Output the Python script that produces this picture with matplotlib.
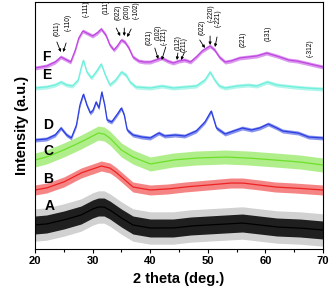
import numpy as np
import matplotlib
matplotlib.use("Agg")
import matplotlib.pyplot as plt

plt.rcParams['font.family'] = ['Liberation Sans', 'DejaVu Sans']

# XRD patterns (2 theta, stacked intensity in a.u.)
F_x = [20, 22, 23.5, 24.5, 25.5, 26.2, 27, 27.6, 28.3, 29, 30, 30.8, 31.5, 32.3, 33, 33.7, 34.3, 35, 35.6, 36.3,
       37, 38, 39, 40, 41, 42, 43, 44, 45, 46, 47, 48, 49, 50.4, 51.2, 52, 53, 54, 55.5, 57, 58.5, 60.2, 62,
       64, 65.5, 67, 68.5, 70]
F_y = [181, 183, 187, 192, 189, 187, 199, 211, 218, 216, 213, 216, 220, 214, 204, 199, 203, 209, 207, 201,
       192, 188, 187, 187, 189, 191, 188, 186, 188, 189, 187, 192, 198, 203, 199, 192, 187, 188, 191, 192, 193,
       196, 193, 189, 188, 186, 184, 182]

E_x = [20, 22, 23.5, 24.5, 25.5, 26.5, 27.5, 28.0, 28.4, 29, 29.8, 30.6, 31.5, 32.2, 33, 34, 35, 35.8, 36.5,
       37.5, 40, 42, 44, 46, 48, 49.5, 50.4, 51.2, 52, 53, 55, 57, 58.5, 60.3, 62, 65, 67, 70]
E_y = [161, 162, 164, 167, 164, 163, 169, 181, 189, 177, 171, 177, 185, 174, 164, 169, 177, 174, 167,
       162, 161, 163, 161, 162, 163, 169, 177, 169, 163, 161, 163, 164, 163, 167, 164, 162, 161, 160]

D_x = [20, 22, 23.5, 24.5, 25.5, 26.3, 27.2, 27.8, 28.4, 29, 29.6, 30.1, 30.6, 31.1, 31.6, 32.1, 32.5, 33.3,
       34.2, 35.0, 35.5, 36.0, 37, 38.5, 40, 41.5, 42.5, 44.3, 46, 48, 49.5, 50.6, 51.5, 53, 55, 56, 57.6, 59,
       60.5, 62, 63, 65.7, 67.5, 70]
D_y = [109, 110, 114, 121, 114, 111, 124, 144, 155, 144, 136, 139, 147, 141, 157, 144, 129, 127,
       134, 141, 134, 119, 114, 112, 111, 116, 113, 114, 113, 118, 127, 138, 121, 115, 119, 121, 119, 121,
       125, 121, 118, 116, 112, 111]

C_x = [20, 22, 25, 28, 30, 31, 32, 33, 35, 37, 40, 44, 48, 53, 57, 61.7, 66, 70]
C_y = [89, 92, 99, 107, 113, 116, 115, 111, 99, 92, 85, 89, 91, 92, 91, 89, 87, 84]

B_x = [20, 22, 25, 28, 30, 31.5, 33, 34, 35, 36, 37, 40, 43, 46, 50, 54, 56, 59, 61.7, 65, 70]
B_y = [59, 61, 67, 76, 80, 83, 81, 77, 72, 67, 62, 59, 60, 62, 64, 66, 66, 64, 62, 61, 59]

A_x = [20, 22, 25, 28, 30, 31, 32, 33, 35, 37, 40, 44, 47, 50, 53, 56, 59, 62, 66, 70]
A_y = [24, 25, 29, 34, 40, 42, 42, 39, 31, 24, 21, 21, 23, 24, 25, 26, 24, 22, 21, 19]

# noise band half widths seen in the picture
noise = {'F': 2, 'E': 2, 'D': 2, 'C': 7, 'B': 5, 'A': 9}
labels = ['A', 'B', 'C', 'D', 'E', 'F']
colors = {'F': '#bf45e0', 'E': '#6fefdc', 'D': '#2b3ee0', 'C': '#6ee02a', 'B': '#ee2222', 'A': '#000000'}
series = {'F': (F_x, F_y), 'E': (E_x, E_y), 'D': (D_x, D_y), 'C': (C_x, C_y), 'B': (B_x, B_y), 'A': (A_x, A_y)}
label_pos = {'F': (21.3, 192), 'E': (21.3, 174), 'D': (21.4, 124), 'C': (21.4, 98), 'B': (21.4, 70), 'A': (21.6, 43)}

# reflection labels: text, text position, arrow start, arrow tip
refl = [
    ("(011)", (23.8, 220), (23.8, 207), (24.5, 197)),
    ("(-110)", (25.7, 227), (25.4, 206), (24.9, 197)),
    ("(-111)", (28.9, 240), None, None),
    ("(111)", (32.3, 242), None, None),
    ("(022)", (34.4, 237), (34.1, 221), (34.8, 213)),
    ("(200)", (36.0, 238), (35.5, 221), (35.5, 213)),
    ("(-102)", (37.5, 239), (36.7, 220), (36.0, 212)),
    ("(021)", (39.8, 212), None, None),
    ("(102)", (41.4, 217), (40.8, 201), (41.4, 190)),
    ("(-121)", (42.4, 213), (42.7, 202), (42.0, 189)),
    ("(112)", (44.8, 206), (44.8, 196), (44.65, 189)),
    ("(211)", (45.9, 204), (45.9, 196), (45.35, 189)),
    ("(022)", (49.0, 222), (48.6, 209), (49.5, 201)),
    ("(-220)", (50.6, 236), (50.4, 213), (50.4, 204)),
    ("(-221)", (51.8, 231), (51.6, 212), (51.25, 202)),
    ("(221)", (56.1, 210), None, None),
    ("(131)", (60.5, 216), None, None),
    ("(-312)", (67.7, 201), None, None),
]

fig = plt.figure(figsize=(3.31, 2.99), dpi=100)
ax = fig.add_axes([0.1057, 0.1672, 0.8701, 0.8261])

for k in labels:
    x, y = series[k]
    xs = np.linspace(20, 70, 600)
    ys = np.interp(xs, x, y)
    c = colors[k]
    w = noise[k]
    if k == 'A':
        ax.fill_between(xs, ys - w * 1.8, ys + w * 1.8, color='#999999', alpha=0.45, lw=0)
        ax.fill_between(xs, ys - w, ys + w, color=c, alpha=0.85, lw=0)
    else:
        ax.fill_between(xs, ys - w, ys + w, color=c, alpha=0.55, lw=0)
    ax.plot(xs, ys, color=c, lw=0.9)
    ax.text(label_pos[k][0], label_pos[k][1], k, fontsize=10, fontweight='bold', ha='left', va='center')

for txt, tpos, a0, a1 in refl:
    ax.text(tpos[0], tpos[1], txt, rotation=90, fontsize=4.8, ha='center', va='center')
    if a0 is not None:
        ax.annotate('', xy=a1, xytext=a0,
                    arrowprops=dict(arrowstyle='-|>', lw=0.6, color='black', mutation_scale=4, shrinkA=0, shrinkB=0))

ax.set_xlim(20, 70)
ax.set_ylim(0, 247)
ax.set_yticks([])
ax.set_xticks([20, 30, 40, 50, 60, 70])
ax.set_xticks([25, 35, 45, 55, 65], minor=True)
ax.tick_params(axis='x', which='major', direction='out', length=3, width=0.8, labelsize=8, pad=2)
ax.tick_params(axis='x', which='minor', direction='out', length=2, width=0.8)
for t in ax.get_xticklabels():
    t.set_fontweight('bold')
for s in ax.spines.values():
    s.set_linewidth(0.8)
ax.set_xlabel("2 theta (deg.)", fontsize=10.5, fontweight='bold', labelpad=4)
ax.set_ylabel("Intensity (a.u.)", fontsize=10.5, fontweight='bold', labelpad=4)

fig.savefig("out.png", dpi=100)
